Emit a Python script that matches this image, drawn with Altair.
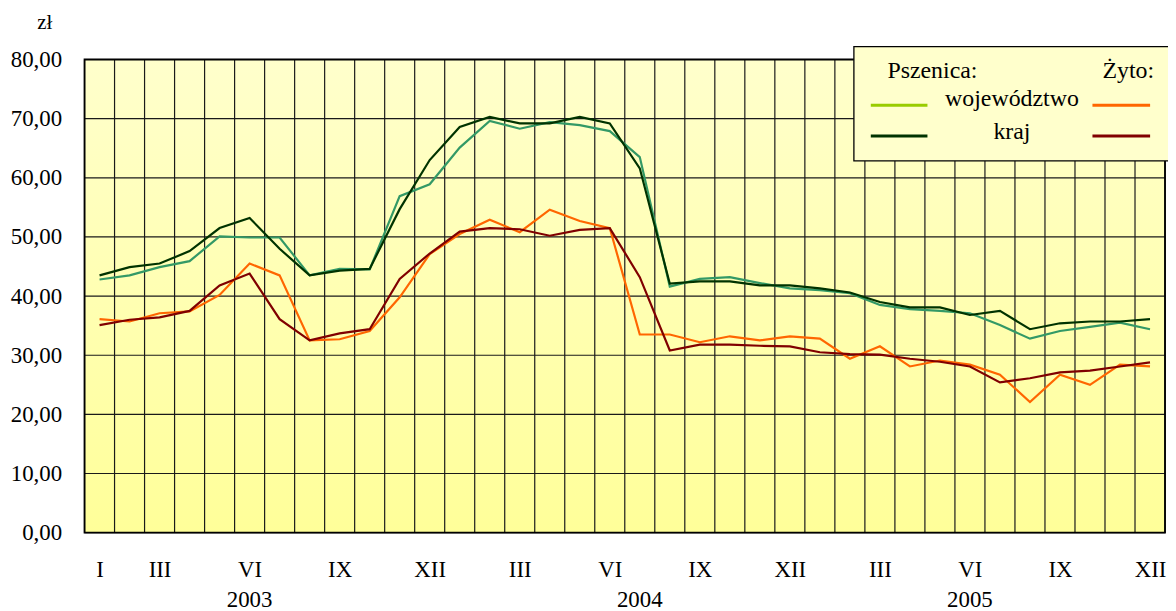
import json
import altair as alt
import pandas as pd

# ---- data ----
month_labels = ["I", "II", "III", "IV", "V", "VI", "VII", "VIII", "IX", "X", "XI", "XII"]
tick_months = [0, 2, 5, 8, 11, 14, 17, 20, 23, 26, 29, 32, 35]
years = ["2003", "2004", "2005"]
year_pos = [5.5, 18.5, 29.5]

psz_woj = [42.8, 43.5, 44.9, 45.9, 50.1, 49.9, 49.9, 43.5, 44.6, 44.5, 56.9, 58.9,
           65.1, 69.6, 68.3, 69.4, 68.9, 67.9, 63.5, 41.6, 42.9, 43.2, 42.2, 41.3,
           41.0, 40.5, 38.5, 37.8, 37.5, 37.1, 35.1, 32.8, 34.1, 34.8, 35.5, 34.4]
psz_kraj = [43.5, 44.9, 45.5, 47.6, 51.5, 53.2, 48.0, 43.5, 44.3, 44.6, 54.7, 63.0,
            68.6, 70.3, 69.2, 69.2, 70.3, 69.2, 61.6, 42.1, 42.5, 42.5, 41.8, 41.8,
            41.3, 40.6, 39.0, 38.1, 38.1, 36.8, 37.5, 34.4, 35.4, 35.7, 35.7, 36.1]
zyto_woj = [36.1, 35.7, 37.1, 37.4, 40.2, 45.5, 43.5, 32.5, 32.7, 34.1, 39.8, 47.1,
            50.5, 52.9, 50.8, 54.6, 52.7, 51.5, 33.5, 33.5, 32.2, 33.2, 32.5, 33.2,
            32.8, 29.4, 31.5, 28.1, 29.1, 28.4, 26.7, 22.1, 26.7, 25.0, 28.4, 28.1]
zyto_kraj = [35.1, 36.0, 36.4, 37.5, 41.8, 43.8, 36.1, 32.5, 33.7, 34.4, 42.9, 47.2,
             50.9, 51.5, 51.3, 50.2, 51.2, 51.5, 43.2, 30.8, 31.8, 31.8, 31.6, 31.5,
             30.5, 30.2, 30.1, 29.4, 28.9, 28.1, 25.4, 26.1, 27.1, 27.4, 28.1, 28.8]

series_names = ["psz_woj", "psz_kraj", "zyto_woj", "zyto_kraj"]
series_colors = ["#339966", "#003300", "#FF6600", "#800000"]
legend_colors = ["#99CC00", "#003300", "#FF6600", "#800000"]

W, H = 1087, 476
FONT = "Liberation Serif"
FS = 23

rows = []
for name, vals in zip(series_names, [psz_woj, psz_kraj, zyto_woj, zyto_kraj]):
    for i, v in enumerate(vals):
        rows.append({"x": i + 0.5, "v": v, "s": name, "o": series_names.index(name)})
df = pd.DataFrame(rows)

xscale = alt.Scale(domain=[0, 36], nice=False, zero=False)
yscale = alt.Scale(domain=[0, 80], nice=False)

label_expr = json.dumps(month_labels) + "[floor(datum.value) % 12]"

x_axis = alt.Axis(values=[m + 0.5 for m in tick_months], labelExpr=label_expr,
                  title=None, grid=False, domain=False, ticks=False, tickSize=0,
                  labelPadding=37, labelFont=FONT, labelFontSize=FS,
                  labelColor="#000", labelBaseline="middle")
y_axis = alt.Axis(values=list(range(0, 81, 10)),
                  labelExpr="replace(format(datum.value, '.2f'), '.', ',')",
                  title=None, grid=False, domain=False, ticks=False, tickSize=0,
                  labelPadding=23, labelFont=FONT, labelFontSize=FS,
                  labelColor="#000")

bg = alt.Chart(pd.DataFrame({"a": [0]})).mark_rect(
    fill=alt.Gradient(gradient="linear",
                      stops=[alt.GradientStop(color="#FFFFCC", offset=0),
                             alt.GradientStop(color="#FFFF99", offset=1)],
                      x1=0, x2=0, y1=0, y2=1)
).encode(x=alt.value(0), x2=alt.value(W), y=alt.value(0), y2=alt.value(H))

vgrid = alt.Chart(pd.DataFrame({"b": list(range(37))})).mark_rule(
    color="#1a1a1a", strokeWidth=1.2
).encode(x=alt.X("b:Q", scale=xscale, axis=x_axis), y=alt.value(0), y2=alt.value(H))

hgrid = alt.Chart(pd.DataFrame({"g": list(range(0, 81, 10))})).mark_rule(
    color="#1a1a1a", strokeWidth=1.2
).encode(y=alt.Y("g:Q", scale=yscale, axis=y_axis), x=alt.value(0), x2=alt.value(W))

frame = alt.Chart(pd.DataFrame({"a": [0]})).mark_rect(
    fill=None, stroke="#000", strokeWidth=1.8
).encode(x=alt.value(0), x2=alt.value(W), y=alt.value(0), y2=alt.value(H))

lines = alt.Chart(df).mark_line(strokeWidth=2.2).encode(
    x=alt.X("x:Q", scale=xscale, axis=x_axis),
    y=alt.Y("v:Q", scale=yscale, axis=y_axis),
    color=alt.Color("s:N", scale=alt.Scale(domain=series_names, range=series_colors), legend=None),
    order="o:Q",
)

year_df = pd.DataFrame({"pos": year_pos, "label": years})
year_text = alt.Chart(year_df).mark_text(font=FONT, fontSize=FS, color="#000", baseline="alphabetic").encode(
    x=alt.X("pos:Q", scale=xscale, axis=x_axis), y=alt.value(551), text="label:N")

unit = alt.Chart(pd.DataFrame({"t": ["zł"]})).mark_text(
    font=FONT, fontSize=FS - 2, color="#000", baseline="middle").encode(
    x=alt.value(-40), y=alt.value(-37), text="t:N")

leg_box = alt.Chart(pd.DataFrame({"a": [0]})).mark_rect(
    fill="#FFFFCC", stroke="#000", strokeWidth=1.3
).encode(x=alt.value(774), x2=alt.value(1110), y=alt.value(-13), y2=alt.value(102))

leg_lines_df = pd.DataFrame({
    "c": legend_colors,
    "x1": [791, 791, 1014, 1014],
    "x2": [848, 848, 1072, 1072],
    "y": [46, 77, 46, 77],
})
leg_lines = []
for _, r in leg_lines_df.iterrows():
    leg_lines.append(alt.Chart(pd.DataFrame({"a": [0]})).mark_rule(
        color=r["c"], strokeWidth=3).encode(
        x=alt.value(int(r["x1"])), x2=alt.value(int(r["x2"])), y=alt.value(int(r["y"]))))

leg_texts = []
for t, xx, yy in [("Pszenica:", 853, 12), ("Żyto:", 1050, 12),
                  ("województwo", 933, 40), ("kraj", 933, 73)]:
    leg_texts.append(alt.Chart(pd.DataFrame({"t": [t]})).mark_text(
        font=FONT, fontSize=24, color="#000", baseline="middle", align="center").encode(
        x=alt.value(xx), y=alt.value(yy), text="t:N"))

chart = alt.layer(bg, vgrid, hgrid, frame, lines, year_text, unit, leg_box, *leg_lines, *leg_texts).properties(
    width=W, height=H,
    autosize=alt.AutoSizeParams(type="none"),
    padding={"left": 77, "top": 50, "right": 3, "bottom": 77},
    background="white",
).configure_view(stroke=None)

chart.save("out.html", embed_options={"renderer": "svg", "actions": False})
